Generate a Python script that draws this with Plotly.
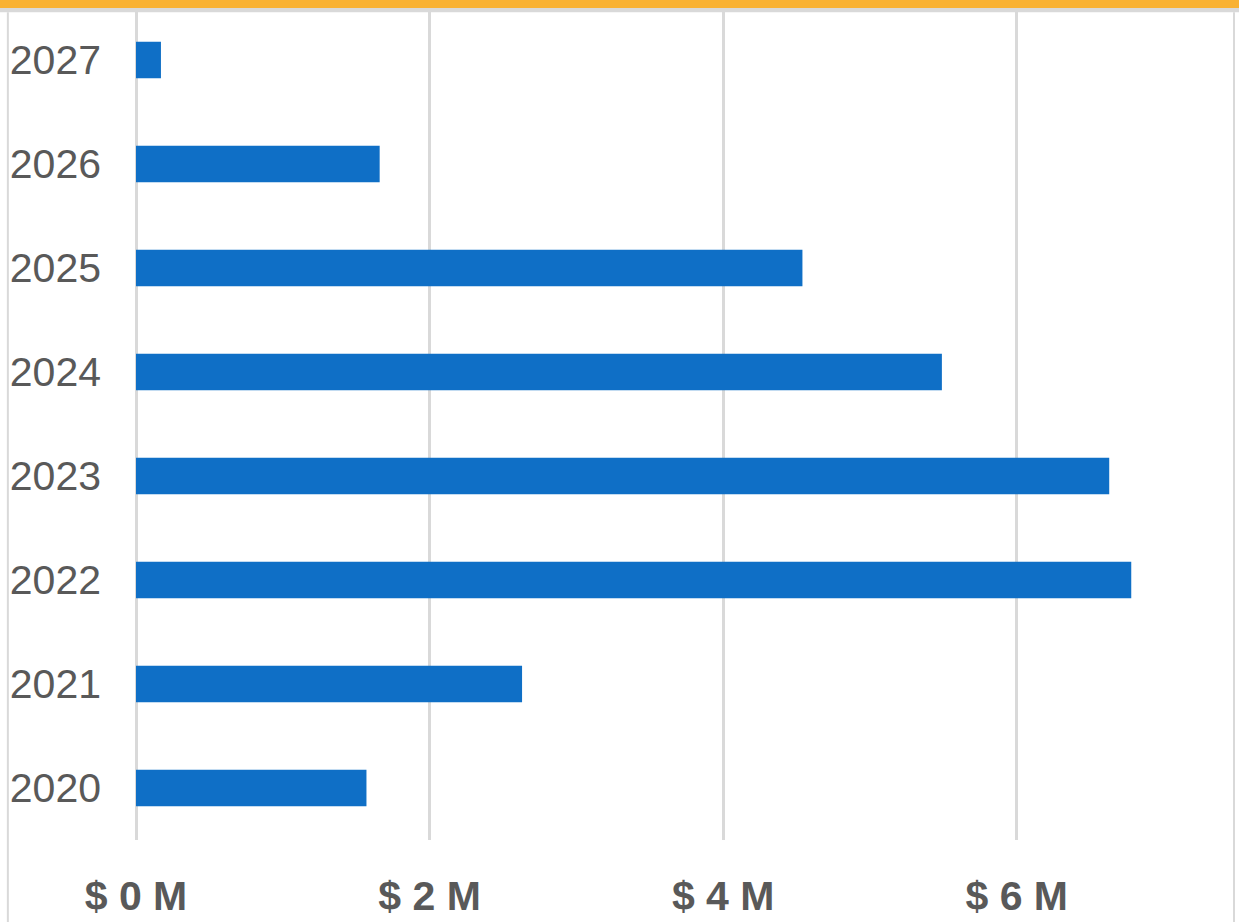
import plotly.graph_objects as go

years = ["2020", "2021", "2022", "2023", "2024", "2025", "2026", "2027"]
amounts = [1.57, 2.63, 6.78, 6.63, 5.49, 4.54, 1.66, 0.17]  # $ millions
tick_vals = [0, 2, 4, 6]
tick_text = ["$ 0 M", "$ 2 M", "$ 4 M", "$ 6 M"]

fig = go.Figure()
fig.add_trace(go.Bar(
    y=years,
    x=amounts,
    orientation="h",
    width=0.35,
    marker=dict(color="#0F6FC6", line=dict(width=0)),
    hoverinfo="x+y",
))

fig.update_layout(
    width=1239,
    height=922,
    margin=dict(l=136, r=5, t=8, b=82),
    paper_bgcolor="white",
    plot_bgcolor="white",
    showlegend=False,
    xaxis=dict(
        range=[0, 7.48],
        tickvals=tick_vals,
        ticktext=tick_text,
        showgrid=True,
        gridcolor="#d9d9d9",
        gridwidth=3,
        zeroline=True,
        zerolinecolor="#d9d9d9",
        zerolinewidth=3,
        showline=False,
        ticks="",
        automargin=False,
        ticklabelstandoff=28,
        tickfont=dict(family="Liberation Sans", size=41, color="#595959", weight="bold"),
    ),
    yaxis=dict(
        type="category",
        range=[-0.5, 7.5],
        showgrid=False,
        zeroline=False,
        showline=False,
        ticks="",
        automargin=False,
        ticklabelstandoff=34,
        tickfont=dict(family="Liberation Sans", size=41, color="#595959"),
    ),
)

# card frame: orange band on top, thin grey rules
fig.add_shape(type="rect", xref="paper", yref="paper", x0=-0.2, x1=1.1, y0=1.0, y1=1.02,
              fillcolor="#F9B233", line=dict(width=0), layer="above")
fig.add_shape(type="rect", xref="paper", yref="paper", x0=-0.2, x1=1.1, y0=0.995, y1=1.0,
              fillcolor="#d9d9d9", line=dict(width=0), layer="above")
fig.add_shape(type="line", xref="paper", yref="paper", x0=-0.1167, x1=-0.1167, y0=-0.2, y1=0.995,
              line=dict(color="#d9d9d9", width=2), layer="above")
fig.add_shape(type="line", xref="paper", yref="paper", x0=1.0, x1=1.0, y0=-0.2, y1=0.995,
              line=dict(color="#d9d9d9", width=2), layer="above")

fig.write_html("out.html", config={"displayModeBar": False},
               post_script="document.body.style.margin='0';")
